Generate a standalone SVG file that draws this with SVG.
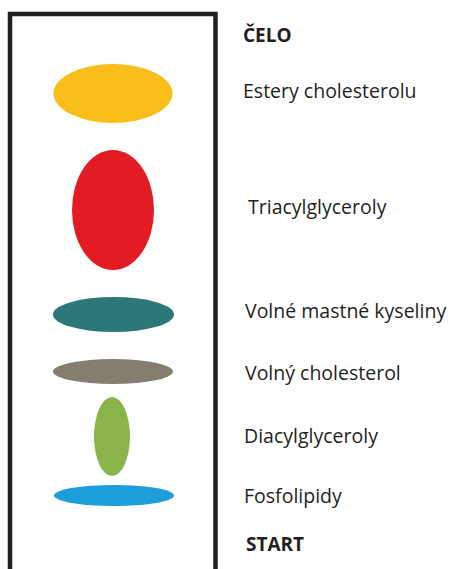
<svg xmlns="http://www.w3.org/2000/svg" width="452" height="569" viewBox="0 0 452 569">
<style>
.lbl{font-family:"Open Sans","Noto Sans",sans-serif;font-size:19.5px;fill:#231f20}
.hd{font-family:"Open Sans","Noto Sans",sans-serif;font-size:19px;font-weight:bold;fill:#231f20}
</style>
<rect width="452" height="569" fill="#ffffff"/>
<g id="plate">
<path d="M10,572 V14 H215.5 V572" fill="none" stroke="#231f20" stroke-width="4.5"/>
</g>
<g id="spot-estery"><ellipse cx="113" cy="93.5" rx="59.5" ry="29.5" fill="#f9be1a"/></g>
<g id="spot-tag"><ellipse cx="113" cy="210" rx="41" ry="60" fill="#e31b23"/></g>
<g id="spot-vmk"><ellipse cx="113.5" cy="314.5" rx="60.5" ry="17.5" fill="#2c7878"/></g>
<g id="spot-chol"><ellipse cx="113" cy="371.5" rx="60" ry="12.5" fill="#857d6e"/></g>
<g id="spot-dag"><ellipse cx="112" cy="436.5" rx="18" ry="39.5" fill="#8ab34a"/></g>
<g id="spot-fosfo"><ellipse cx="114" cy="495.5" rx="60" ry="10.5" fill="#1d9dd9"/></g>
<g id="labels">
<text class="hd" x="243" y="42">ČELO</text>
<text class="lbl" x="243" y="98">Estery cholesterolu</text>
<text class="lbl" x="248" y="214">Triacylglyceroly</text>
<text class="lbl" x="245" y="318">Volné mastné kyseliny</text>
<text class="lbl" x="245" y="380">Volný cholesterol</text>
<text class="lbl" x="244" y="443">Diacylglyceroly</text>
<text class="lbl" x="244" y="503">Fosfolipidy</text>
<text class="hd" x="246" y="551">START</text>
</g>
</svg>
